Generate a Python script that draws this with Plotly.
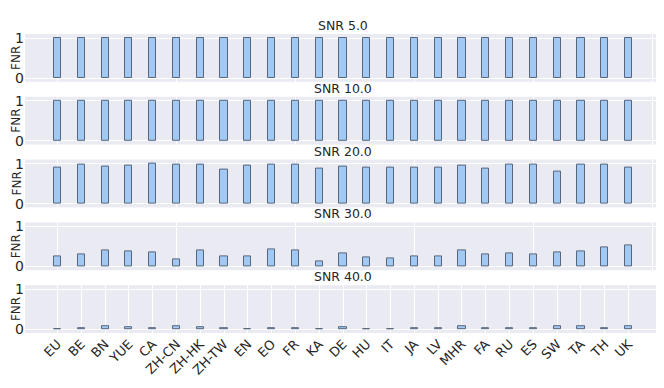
import plotly.graph_objects as go
from plotly.subplots import make_subplots

langs = ['EU', 'BE', 'BN', 'YUE', 'CA', 'ZH-CN', 'ZH-HK', 'ZH-TW', 'EN', 'EO', 'FR', 'KA', 'DE',
         'HU', 'IT', 'JA', 'LV', 'MHR', 'FA', 'RU', 'ES', 'SW', 'TA', 'TH', 'UK']
snr_levels = [5.0, 10.0, 20.0, 30.0, 40.0]

fnr_snr5 = [1.0] * 25
fnr_snr10 = [1.0] * 25
fnr_snr20 = [0.91, 0.965, 0.925, 0.957, 0.99, 0.965, 0.965, 0.84, 0.957, 0.965, 0.98, 0.876, 0.925,
             0.91, 0.90, 0.89, 0.91, 0.957, 0.876, 0.98, 0.965, 0.81, 0.98, 0.98, 0.89]
fnr_snr30 = [0.265, 0.314, 0.413, 0.38, 0.355, 0.183, 0.413, 0.265, 0.265, 0.43, 0.413, 0.133, 0.33,
             0.232, 0.215, 0.265, 0.26, 0.413, 0.314, 0.33, 0.314, 0.347, 0.388, 0.488, 0.52]
fnr_snr40 = [0.005, 0.02, 0.08, 0.06, 0.04, 0.08, 0.06, 0.03, 0.01, 0.04, 0.03, 0.005, 0.06,
             0.01, 0.005, 0.03, 0.03, 0.08, 0.03, 0.03, 0.03, 0.08, 0.07, 0.02, 0.08]
all_fnr = [fnr_snr5, fnr_snr10, fnr_snr20, fnr_snr30, fnr_snr40]

text_colour = '#262626'
bar_colour = '#a1c9f4'
edge_colour = '#56667c'
bg_colour = '#eaeaf2'

n_rows = len(snr_levels)
fig = make_subplots(rows=n_rows, cols=1, vertical_spacing=15 / 299)
idx = list(range(len(langs)))

for i, vals in enumerate(all_fnr):
    fig.add_trace(go.Bar(x=idx, y=vals, width=0.3,
                         marker={'color': bar_colour, 'line': {'color': edge_colour, 'width': 1}},
                         showlegend=False),
                  row=i + 1, col=1)

fig.update_xaxes(range=[-1.365, 25.365], showgrid=True, gridcolor='white', gridwidth=1,
                 zeroline=False, showline=False, ticks='', automargin=False)
for i in range(n_rows - 1):
    fig.update_xaxes(tick0=0, dtick=5, showticklabels=False, row=i + 1, col=1)
fig.update_xaxes(tickvals=idx, ticktext=langs, tickangle=-45,
                 tickfont={'size': 13, 'color': text_colour}, row=n_rows, col=1)
fig.update_yaxes(range=[-0.09, 1.1], tickvals=[0, 1], showgrid=True, gridcolor='white', gridwidth=1,
                 zeroline=False, showline=False, ticks='', automargin=False,
                 tickfont={'size': 14, 'color': text_colour})

annotations = []
for i, snr in enumerate(snr_levels):
    yref = 'y domain' if i == 0 else 'y%d domain' % (i + 1)
    annotations.append(dict(text='SNR %.1f' % snr, xref='paper', x=0.5, yref=yref, y=1,
                            xanchor='center', yanchor='bottom', showarrow=False, yshift=-1,
                            font={'size': 12.5, 'color': text_colour}))
    # y label kept inside the figure's left edge
    annotations.append(dict(text='FNR', xref='paper', x=0, xshift=-17, yref=yref, y=0.5,
                            xanchor='left', yanchor='middle', textangle=-90, showarrow=False,
                            borderpad=0, font={'size': 12, 'color': text_colour}))

# the page body adds an 8 px offset, so the figure is drawn 8 px smaller on each axis
fig.update_layout(width=656, height=380, plot_bgcolor=bg_colour, paper_bgcolor='white',
                  margin={'l': 17, 'r': 3, 't': 26, 'b': 55},
                  font={'family': 'DejaVu Sans', 'color': text_colour},
                  bargap=0, annotations=annotations)

fig.write_html('out.html')
